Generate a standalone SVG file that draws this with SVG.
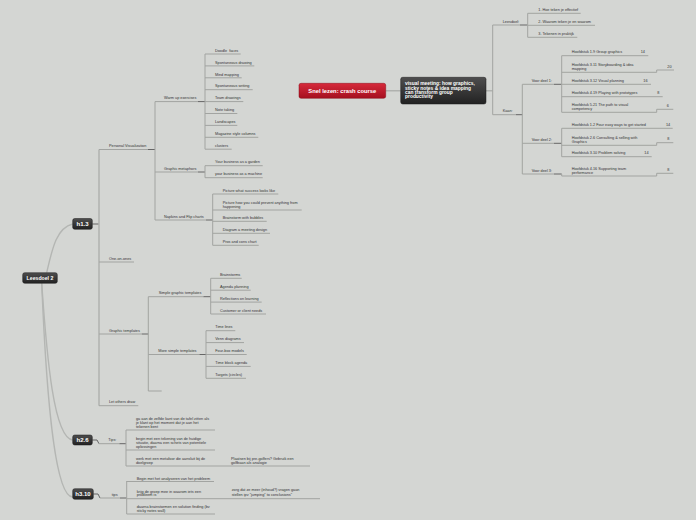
<svg xmlns="http://www.w3.org/2000/svg" width="696" height="520" viewBox="0 0 696 520">
<defs>
<linearGradient id="gd" x1="0" y1="0" x2="0" y2="1"><stop offset="0" stop-color="#4e4e4e"/><stop offset="1" stop-color="#222"/></linearGradient>
<linearGradient id="gr" x1="0" y1="0" x2="0" y2="1"><stop offset="0" stop-color="#d62a3b"/><stop offset="1" stop-color="#a50f1f"/></linearGradient>
</defs>
<style>
.t{font-family:"Liberation Sans",Arial,sans-serif;font-size:3.8px;fill:#333}
.b{font-family:"Liberation Sans",Arial,sans-serif;font-weight:bold;fill:#fff}
.u{stroke:#a2a4a1;stroke-width:1;fill:none}
.s{stroke:#a2a4a1;stroke-width:1;fill:none}
.d{stroke:#666;stroke-width:1;fill:none}
.c{stroke:#b4b6b3;stroke-width:1.4;fill:none}
.bx{fill:url(#gd);stroke:#1a1a1a;stroke-width:0.5}
</style>
<rect width="696" height="520" fill="#d4d6d3"/>

<g id="connectors">
<path class="c" d="M46.7,272.7 C52,250 56,228 72.7,224"/>
<path class="c" d="M41.7,283.3 C47,360 54,438 72.7,440"/>
<path class="c" d="M41.7,283.3 C47,410 56,497 72.7,497"/>
<path class="d" d="M92.3,224 H99"/>
<path d="M99,149.5 V405.7" stroke="#b0b2af" stroke-width="1.5" fill="none"/>
<path class="d" d="M148,149.5 H155"/>
<path class="s" d="M155,101.6 V220"/>
<path class="d" d="M198,101.6 H205 M198,172 H205 M206,220 H212.7"/>
<path class="s" d="M205,54 V149.2 M205,165.7 V177.7 M212.7,194 V245.3"/>
<path class="d" d="M141.7,334 H148.3"/>
<path class="s" d="M148.3,296.7 V391"/>
<path class="d" d="M203.3,296.7 H210.7 M199.3,354.5 H206"/>
<path class="s" d="M210.7,278.3 V314 M206,330.7 V378.3"/>
<path class="d" d="M92.3,440 H97 L99,443.7"/>
<path class="d" d="M119.3,443.7 H126"/>
<path class="s" d="M126,430 V466"/>
<path class="d" d="M93.3,494 H98 L100,498"/>
<path class="d" d="M120,498 H126.7"/>
<path class="s" d="M126.7,481 V514"/>
<path d="M385.7,90.7 H400.7 M486,90.7 H492.7" stroke="#b0b2af" stroke-width="1.6" fill="none"/>
<path class="s" d="M492.7,25 V114.7"/>
<path class="d" d="M520,25 H527.7 M516,114.7 H522.3 M554,84.3 H561.7 M554,143.3 H561.7 M554,174 H561.7"/>
<path class="s" d="M527.7,13.3 V37.3 M522.3,84.3 V174 M561.7,55.7 V112.3 M561.7,128.3 V156.7 M561.7,174 V176"/>
</g>

<g id="root"><rect class="bx" x="22.7" y="272.7" width="34.6" height="10.6" rx="2"/><text class="b" x="40" y="279.8" font-size="5.2" text-anchor="middle">Leesdoel 2</text></g>
<g id="h13"><rect class="bx" x="72.7" y="218.5" width="19.6" height="10.8" rx="2"/><text class="b" x="82.5" y="226" font-size="6" text-anchor="middle">h1.3</text></g>
<g id="h26"><rect class="bx" x="72.7" y="435" width="19.6" height="10" rx="2"/><text class="b" x="82.5" y="442.1" font-size="6" text-anchor="middle">h2.6</text></g>
<g id="h310"><rect class="bx" x="72.7" y="488.7" width="20.6" height="10.6" rx="2"/><text class="b" x="83" y="496.1" font-size="6" text-anchor="middle">h3.10</text></g>

<g id="personal"><path class="u" d="M99,149.5 H148"/><text class="t" x="109" y="147.2">Personal Visualization</text></g>
<g id="oneonones"><path class="u" d="M99,262 H134"/><text class="t" x="109" y="259.7">One-on-ones</text></g>
<g id="graphtempl"><path class="u" d="M99,334 H141.7"/><text class="t" x="109" y="331.7">Graphic templates</text></g>
<g id="letothers"><path class="u" d="M99,405.7 H138.3"/><text class="t" x="109" y="403.4">Let others draw</text></g>

<g id="warmup"><path class="u" d="M155,101.6 H198"/><text class="t" x="164" y="99.3">Warm up exercises</text></g>
<g id="metaphors"><path class="u" d="M155,172 H198"/><text class="t" x="164" y="169.7">Graphic metaphors</text></g>
<g id="napkins"><path class="u" d="M155,220 H206"/><text class="t" x="164" y="217.7">Napkins and Flip charts</text></g>

<g id="w1"><path class="u" d="M205,54 H240.7"/><text class="t" x="215" y="51.7" xml:space="preserve">Doodle  faces</text></g>
<g id="w2"><path class="u" d="M205,65.9 H254.3"/><text class="t" x="215" y="63.6">Spontaneous drawing</text></g>
<g id="w3"><path class="u" d="M205,77.8 H241.7"/><text class="t" x="215" y="75.5">Mind mapping</text></g>
<g id="w4"><path class="u" d="M205,89.7 H252.7"/><text class="t" x="215" y="87.4">Spontaneous writing</text></g>
<g id="w5"><path class="u" d="M205,101.6 H243.3"/><text class="t" x="215" y="99.3">Team drawings</text></g>
<g id="w6"><path class="u" d="M205,113.5 H237.3"/><text class="t" x="215" y="111.2">Note taking</text></g>
<g id="w7"><path class="u" d="M205,125.4 H237.3"/><text class="t" x="215" y="123.1">Landscapes</text></g>
<g id="w8"><path class="u" d="M205,137.3 H258.3"/><text class="t" x="215" y="135">Magazine style columns</text></g>
<g id="w9"><path class="u" d="M205,149.2 H231.7"/><text class="t" x="215" y="146.9">clusters</text></g>

<g id="m1"><path class="u" d="M205,165.7 H262.7"/><text class="t" x="215" y="163.4">Your business as a garden</text></g>
<g id="m2"><path class="u" d="M205,177.7 H262.7"/><text class="t" x="215" y="175.4">your business as a machine</text></g>

<g id="n1"><path class="u" d="M212.7,194 H278.3"/><text class="t" x="222.7" y="191.7">Picture what success looks like</text></g>
<g id="n2"><path class="u" d="M212.7,210 H301.7"/><text class="t" x="222.7" y="203.9">Picture how you could prevent anything from<tspan x="222.7" y="207.7">happening</tspan></text></g>
<g id="n3"><path class="u" d="M212.7,221.3 H266.7"/><text class="t" x="222.7" y="219">Brainstorm with bubbles</text></g>
<g id="n4"><path class="u" d="M212.7,233.3 H270"/><text class="t" x="222.7" y="231">Diagram a meeting design</text></g>
<g id="n5"><path class="u" d="M212.7,245.3 H258.7"/><text class="t" x="222.7" y="243">Pros and cons chart</text></g>

<g id="simple"><path class="u" d="M148.3,296.7 H203.3"/><text class="t" x="158.7" y="294.4">Simple graphic templates</text></g>
<g id="more"><path class="u" d="M148.3,354.5 H199.3"/><text class="t" x="158.3" y="352.2">More simple templates</text></g>
<g id="empty"><path class="u" d="M148.3,391 H161.7"/></g>

<g id="s1"><path class="u" d="M210.7,278.3 H241.7"/><text class="t" x="220" y="276">Brainstorms</text></g>
<g id="s2"><path class="u" d="M210.7,290.2 H250.7"/><text class="t" x="220" y="287.9">Agenda planning</text></g>
<g id="s3"><path class="u" d="M210.7,302.1 H261.7"/><text class="t" x="220" y="299.8">Reflections on learning</text></g>
<g id="s4"><path class="u" d="M210.7,314 H266"/><text class="t" x="220" y="311.7">Customer or client needs</text></g>

<g id="r1"><path class="u" d="M206,330.7 H235.3"/><text class="t" x="215.3" y="328.4">Time lines</text></g>
<g id="r2"><path class="u" d="M206,342.6 H244"/><text class="t" x="215.3" y="340.3">Venn diagrams</text></g>
<g id="r3"><path class="u" d="M206,354.5 H246.7"/><text class="t" x="215.3" y="352.2">Four-box models</text></g>
<g id="r4"><path class="u" d="M206,366.4 H250.7"/><text class="t" x="215.3" y="364.1">Time block agenda</text></g>
<g id="r5"><path class="u" d="M206,378.3 H246"/><text class="t" x="215.3" y="376">Targets (circles)</text></g>

<g id="tips26"><path class="u" d="M99,443.7 H119.3"/><text class="t" x="108.3" y="441.4">Tips:</text></g>
<g id="t1"><path class="u" d="M126,430 H215"/><text class="t" x="136" y="420.3">ga aan de zelfde kant van de tafel zitten als<tspan x="136" y="424">je klant op het moment dat je aan het</tspan><tspan x="136" y="427.7">tekenen bent</tspan></text></g>
<g id="t2"><path class="u" d="M126,450 H215"/><text class="t" x="136" y="440.3">begin met een tekening van de huidige<tspan x="136" y="444">situatie, daarna een schets van potentiele</tspan><tspan x="136" y="447.7">oplossingen</tspan></text></g>
<g id="t3"><path class="u" d="M126,466 H215"/><text class="t" x="136" y="460">werk met een metafoor die aansluit bij de<tspan x="136" y="463.7">doelgroep</tspan></text></g>
<g id="t3a"><path class="u" d="M215,466 H310"/><text class="t" x="231" y="460">Plaatsen bij pre-golfers? Gebruik een<tspan x="231" y="463.7">golfbaan als analogie</tspan></text></g>

<g id="tips310"><path class="u" d="M100,498 H120"/><text class="t" x="111.7" y="495.7">tips</text></g>
<g id="p1"><path class="u" d="M126.7,481.5 H214"/><text class="t" x="136.7" y="479.6">Begin met het analyseren van het probleem</text></g>
<g id="p2"><path class="u" d="M126.7,498.7 H215"/><text class="t" x="136.7" y="492.6">krijg de groep mee in waarom iets een<tspan x="136.7" y="496.4">probleem is</tspan></text></g>
<g id="p2a"><path class="u" d="M215,498.7 H320"/><text class="t" x="231.7" y="491.2">zorg dat ze meer (inhoud?) vragen gaan<tspan x="231.7" y="495.6">stellen ipv "jumping" to conclusions"</tspan></text></g>
<g id="p3"><path class="u" d="M126.7,514 H215"/><text class="t" x="136.7" y="508">daarna brainstormen en solution finding (bv<tspan x="136.7" y="511.7">sticky notes wall)</tspan></text></g>

<g id="snel"><rect x="299" y="83.3" width="86.7" height="15" rx="2" fill="url(#gr)" stroke="#8a0c18" stroke-width="0.5"/><text class="b" x="342.3" y="93" font-size="5.8" text-anchor="middle">Snel lezen: crash course</text></g>
<g id="visual"><rect class="bx" x="400.7" y="77.3" width="85.3" height="26.7" rx="2"/><text class="b" x="405" y="85.4" font-size="4.9">visual meeting: how graphics,<tspan x="405" y="89.7">sticky notes &amp; idea mapping</tspan><tspan x="405" y="94">can transform group</tspan><tspan x="405" y="98.3">productivity</tspan></text></g>

<g id="leesdoel"><path class="u" d="M492.7,25 H520"/><text class="t" x="502.7" y="22.7">Leesdoel:</text></g>
<g id="l1"><path class="u" d="M527.7,13.3 H580.7"/><text class="t" x="538.3" y="11">1. Hoe teken je effectief</text></g>
<g id="l2"><path class="u" d="M527.7,25.3 H595"/><text class="t" x="538.3" y="23">2. Waarom teken je en waarom</text></g>
<g id="l3"><path class="u" d="M527.7,37.3 H577.3"/><text class="t" x="538.3" y="35">3. Tekenen in praktijk</text></g>

<g id="kaan"><path class="u" d="M492.7,114.7 H516"/><text class="t" x="502.7" y="112.4">Kaan:</text></g>
<g id="vd1"><path class="u" d="M522.3,84.3 H554"/><text class="t" x="531.7" y="82">Voor deel 1:</text></g>
<g id="vd2"><path class="u" d="M522.3,143.3 H554"/><text class="t" x="531.7" y="141">Voor deel 2:</text></g>
<g id="vd3"><path class="u" d="M522.3,174 H554"/><text class="t" x="531.7" y="171.7">Voor deel 3:</text></g>

<g id="k1"><path class="u" d="M561.7,55.7 H648.3"/><text class="t" x="571.7" y="53.4">Hoofdstuk 1.9 Group graphics</text><text class="t" x="640.7" y="53.4">14</text></g>
<g id="k2"><path class="u" d="M561.7,72.3 H656.7 V70 H674"/><text class="t" x="571.7" y="66">Hoofdstuk 3.11 Storyboarding &amp; idea<tspan x="571.7" y="70">mapping</tspan></text><text class="t" x="667.3" y="67.7">20</text></g>
<g id="k3"><path class="u" d="M561.7,84.3 H651"/><text class="t" x="571.7" y="82">Hoofdstuk 3.12 Visual planning</text><text class="t" x="643.3" y="82">16</text></g>
<g id="k4"><path class="u" d="M561.7,96.7 H662.7"/><text class="t" x="571.7" y="94.4">Hoofdstuk 4.19 Playing with prototypes</text><text class="t" x="657.3" y="94.4">8</text></g>
<g id="k5"><path class="u" d="M561.7,112.3 H656.7 V109.3 H673.3"/><text class="t" x="571.7" y="106">Hoofdstuk 5.21 The path to visual<tspan x="571.7" y="110">competency</tspan></text><text class="t" x="666.7" y="107">6</text></g>

<g id="k6"><path class="u" d="M561.7,128.3 H672.7"/><text class="t" x="571.7" y="126">Hoofdstuk 1.2 Four easy ways to get started</text><text class="t" x="666" y="126">14</text></g>
<g id="k7"><path class="u" d="M561.7,145.3 H656.7 V142.7 H673.3"/><text class="t" x="571.7" y="139">Hoofdstuk 2.6 Consulting &amp; selling with<tspan x="571.7" y="143">Graphics</tspan></text><text class="t" x="667.3" y="140.4">8</text></g>
<g id="k8"><path class="u" d="M561.7,156.7 H651.7"/><text class="t" x="571.7" y="154.4">Hoofdstuk 3.10 Problem solving</text><text class="t" x="644.3" y="154.4">14</text></g>

<g id="k9"><path class="u" d="M561.7,176 H656.7 V173.3 H673.3"/><text class="t" x="571.7" y="169.7">Hoofdstuk 4.16 Supporting team<tspan x="571.7" y="173.7">performance</tspan></text><text class="t" x="667.3" y="171">8</text></g>
</svg>
